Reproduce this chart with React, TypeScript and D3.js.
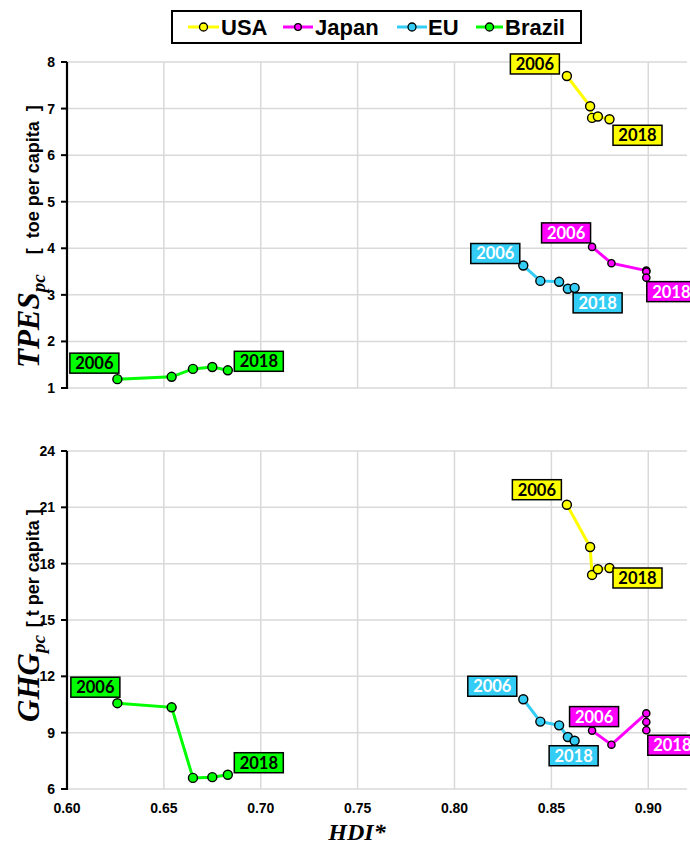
import React from "react";
import * as d3 from "d3";

// ---------- data ----------
const seriesNames = ["USA", "Japan", "EU", "Brazil"];
const years = ["2006", "2018"];

const hdiUSA = [0.858, 0.87, 0.871, 0.874, 0.88];
const tpesUSA = [7.7, 7.05, 6.8, 6.83, 6.77];
const ghgUSA = [21.14, 18.89, 17.4, 17.7, 17.77];

const hdiJapan = [0.871, 0.881, 0.899, 0.899, 0.899];
const tpesJapan = [4.03, 3.68, 3.52, 3.5, 3.37];
const ghgJapan = [9.11, 8.36, 10.03, 9.57, 9.13];

const hdiEU = [0.8355, 0.8443, 0.854, 0.8585, 0.862];
const tpesEU = [3.63, 3.3, 3.28, 3.13, 3.15];
const ghgEU = [10.78, 9.59, 9.39, 8.77, 8.57];

const hdiBrazil = [0.626, 0.654, 0.665, 0.675, 0.683];
const tpesBrazil = [1.19, 1.24, 1.41, 1.45, 1.38];
const ghgBrazil = [10.57, 10.35, 6.59, 6.63, 6.76];

const xTicks = [0.6, 0.65, 0.7, 0.75, 0.8, 0.85, 0.9];
const tpesTicks = [1, 2, 3, 4, 5, 6, 7, 8];
const ghgTicks = [6, 9, 12, 15, 18, 21, 24];

// ---------- styles ----------
const colors: Record<string, string> = {
  USA: "#ffff00",
  Japan: "#ff00ff",
  EU: "#33ccf5",
  Brazil: "#00ff00",
};
const textColors: Record<string, string> = {
  USA: "#000",
  Japan: "#fff",
  EU: "#fff",
  Brazil: "#000",
};
const markerR: Record<string, number> = { USA: 4.5, Japan: 3.6, EU: 4.5, Brazil: 4.5 };

// label offsets (px, box centre relative to point) [first, last]
const topOffsets: Record<string, [number, number][]> = {
  USA: [[-32, -12], [28, 16]],
  Japan: [[-26, -14], [25, 14]],
  EU: [[-28, -12], [23, 15]],
  Brazil: [[-23, -16], [31, -9]],
};
const botOffsets: Record<string, [number, number][]> = {
  USA: [[-30, -15], [28, 10]],
  Japan: [[2, -14], [26, 15]],
  EU: [[-31, -13], [-1, 15]],
  Brazil: [[-22, -16], [31, -12]],
};

const series = [
  { name: "USA", hdi: hdiUSA, tpes: tpesUSA, ghg: ghgUSA },
  { name: "Japan", hdi: hdiJapan, tpes: tpesJapan, ghg: ghgJapan },
  { name: "EU", hdi: hdiEU, tpes: tpesEU, ghg: ghgEU },
  { name: "Brazil", hdi: hdiBrazil, tpes: tpesBrazil, ghg: ghgBrazil },
];

const SANS = "'Liberation Sans', Arial, sans-serif";
const SERIF = "'Liberation Serif', 'Times New Roman', serif";
const LABEL_FONT = "Lato, 'Open Sans', sans-serif";

const x = d3.scaleLinear().domain([0.6, 0.92]).range([67, 687]);
const yTop = d3.scaleLinear().domain([1, 8]).range([388, 62]);
const yBot = d3.scaleLinear().domain([6, 24]).range([789, 451]);

function Panel({
  y,
  ticks,
  valueKey,
  offsets,
  showX,
}: {
  y: d3.ScaleLinear<number, number>;
  ticks: number[];
  valueKey: "tpes" | "ghg";
  offsets: Record<string, [number, number][]>;
  showX: boolean;
}) {
  const [y0, y1] = y.range();
  const [x0, x1] = x.range();
  return (
    <g>
      {ticks.map((t) => (
        <line key={"h" + t} x1={x0} x2={x1} y1={y(t)} y2={y(t)} stroke="#d9d9d9" strokeWidth={1.5} />
      ))}
      {xTicks.slice(1).map((t) => (
        <line key={"v" + t} x1={x(t)} x2={x(t)} y1={y0} y2={y1} stroke="#d9d9d9" strokeWidth={1.5} />
      ))}
      <line x1={x0} x2={x0} y1={y0 + 1} y2={y1} stroke="#000" strokeWidth={2.2} />
      {ticks.map((t) => (
        <line key={"t" + t} x1={x0 - 6} x2={x0} y1={y(t)} y2={y(t)} stroke="#000" strokeWidth={2} />
      ))}
      {ticks.map((t) => (
        <text
          key={"l" + t}
          x={x0 - 12}
          y={y(t)}
          dy="0.36em"
          textAnchor="end"
          fontFamily={SANS}
          fontWeight="bold"
          fontSize={14}
          fill="#000"
        >
          {t}
        </text>
      ))}
      {showX &&
        xTicks.map((t) => (
          <text
            key={"x" + t}
            x={x(t)}
            y={y0 + 24}
            textAnchor="middle"
            fontFamily={SANS}
            fontWeight="bold"
            fontSize={14}
            fill="#000"
          >
            {d3.format(".2f")(t)}
          </text>
        ))}
      {series.map((s) => {
        const vals = s[valueKey];
        const pts: [number, number][] = s.hdi.map((h, i) => [x(h), y(vals[i])]);
        const line = d3.line()(pts) || "";
        return (
          <g key={s.name}>
            <path d={line} fill="none" stroke={colors[s.name]} strokeWidth={3} />
            {pts.map((p, i) => (
              <circle
                key={i}
                cx={p[0]}
                cy={p[1]}
                r={markerR[s.name]}
                fill={colors[s.name]}
                stroke="#000"
                strokeWidth={1.4}
              />
            ))}
          </g>
        );
      })}
      {series.map((s) => {
        const vals = s[valueKey];
        const idx = [0, s.hdi.length - 1];
        return idx.map((pi, k) => {
          const cx = x(s.hdi[pi]) + offsets[s.name][k][0];
          const cy = y(vals[pi]) + offsets[s.name][k][1];
          return (
            <g key={s.name + k}>
              <rect
                x={cx - 24.5}
                y={cy - 10}
                width={49}
                height={20}
                fill={colors[s.name]}
                stroke="#000"
                strokeWidth={1.5}
              />
              <text
                x={cx}
                y={cy}
                dy="0.36em"
                textAnchor="middle"
                fontFamily={LABEL_FONT}
                fontWeight="bold"
                fontSize={16.5}
                fill={textColors[s.name]}
              >
                {years[k]}
              </text>
            </g>
          );
        });
      })}
    </g>
  );
}

function Legend() {
  const items = [
    { line: [188, 219], tx: 221 },
    { line: [283, 313], tx: 315 },
    { line: [397, 427], tx: 428 },
    { line: [476, 503], tx: 505 },
  ];
  return (
    <g>
      <rect x={172} y={11} width={409} height={32} fill="#fff" stroke="#000" strokeWidth={2} />
      {seriesNames.map((n, i) => {
        const it = items[i];
        const cx = (it.line[0] + it.line[1]) / 2;
        return (
          <g key={n}>
            <line x1={it.line[0]} x2={it.line[1]} y1={27} y2={27} stroke={colors[n]} strokeWidth={3} />
            <circle cx={cx} cy={27} r={n === "Japan" ? 3.3 : 4} fill={colors[n]} stroke="#000" strokeWidth={1.3} />
            <text x={it.tx} y={35} fontFamily={SANS} fontWeight="bold" fontSize={22} fill="#000">
              {n}
            </text>
          </g>
        );
      })}
    </g>
  );
}

function YTitle({
  x0,
  yStart,
  main,
  unit,
  gap,
}: {
  x0: number;
  yStart: number;
  main: string;
  unit: string;
  gap: number;
}) {
  return (
    <text
      transform={`translate(${x0},${yStart}) rotate(-90)`}
      textAnchor="start"
      fill="#000"
      style={{ whiteSpace: "pre" }}
    >
      <tspan fontFamily={SERIF} fontStyle="italic" fontWeight="bold" fontSize={31}>
        {main}
      </tspan>
      <tspan fontFamily={SERIF} fontStyle="italic" fontWeight="bold" fontSize={19} dy={6}>
        pc
      </tspan>
      <tspan fontFamily={SANS} fontWeight="bold" fontSize={18} dy={-6} dx={gap}>
        {unit}
      </tspan>
    </text>
  );
}

export default function App() {
  return (
    <svg width={690} height={844} style={{ position: "absolute", left: 0, top: 0, background: "#fff" }}>
      <rect width={690} height={844} fill="#fff" />
      <Panel y={yTop} ticks={tpesTicks} valueKey="tpes" offsets={topOffsets} showX={false} />
      <Panel y={yBot} ticks={ghgTicks} valueKey="ghg" offsets={botOffsets} showX={true} />
      <Legend />
      <YTitle x0={39} yStart={368} main="TPES" unit="[  toe per capita  ]" gap={20} />
      <YTitle x0={39} yStart={722} main="GHG" unit="[ t per capita ]" gap={8} />
      <text
        x={357}
        y={840}
        textAnchor="middle"
        fontFamily={SERIF}
        fontStyle="italic"
        fontWeight="bold"
        fontSize={24}
        fill="#000"
      >
        HDI*
      </text>
    </svg>
  );
}
